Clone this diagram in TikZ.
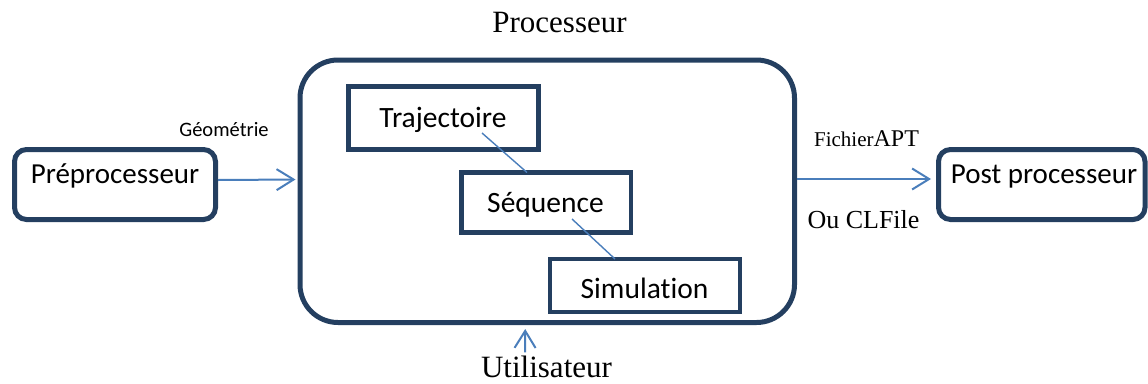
\documentclass[tikz,border=0pt]{standalone}
\usepackage{fontspec}
\setmainfont{Liberation Serif}
\newfontfamily\calibrifont[Ligatures=NoCommon]{Carlito}
\usetikzlibrary{arrows.meta,calc}
\definecolor{boxnavy}{HTML}{243F60}
\definecolor{linkblue}{HTML}{4A7EBB}
\tikzset{
  roundbox/.style={draw=boxnavy, line width=5pt, rounded corners=12pt, inner sep=0pt, fill=white},
  plainbox/.style={draw=boxnavy, line width=4.5pt, inner sep=0pt, fill=white},
  sanstext/.style={font=\calibrifont\fontsize{29}{31}\selectfont, anchor=base, inner sep=0pt},
  innertext/.style={font=\calibrifont\fontsize{29.5}{31}\selectfont, anchor=base, inner sep=0pt},
  seriftext/.style={anchor=base, inner sep=0pt},
  flow/.style={draw=linkblue, line width=2pt, -{Straight Barb[length=17pt, width=21pt, line width=2pt]}},
  link/.style={draw=linkblue, line width=1.4pt}
}
\begin{document}
\begin{tikzpicture}[x=1pt, y=-1pt]
\useasboundingbox (0,0) rectangle (1148,383);

% main processing block
\node[draw=boxnavy, line width=5pt, rounded corners=38pt, inner sep=0pt,
      minimum width=494.5pt, minimum height=262.5pt] (proc) at (547.25,191.25) {};
\node[seriftext, font=\fontsize{31}{33}\selectfont] (tproc) at (559.5,32) {Processeur};

% outer stages
\node[roundbox, minimum width=201pt, minimum height=70pt] (pre) at (115,184.5) {};
\node[sanstext] (tpre) at (115,183) {Préprocesseur};
\node[roundbox, minimum width=206.5pt, minimum height=70pt] (post) at (1041.75,184.5) {};
\node[sanstext] (tpost) at (1044,183) {Post processeur};

% inner steps
\node[plainbox, minimum width=190pt, minimum height=63pt] (traj) at (443.5,118) {};
\node[innertext] (ttraj) at (443,127) {Trajectoire};
\node[plainbox, minimum width=169.5pt, minimum height=60pt] (seq) at (546.25,202.5) {};
\node[innertext] (tseq) at (545.5,212) {Séquence};
\node[plainbox, minimum width=190pt, minimum height=53pt] (sim) at (645,285.5) {};
\node[innertext] (tsim) at (644.5,298) {Simulation};

% links between the steps
\coordinate (l1s) at ($(traj.center)+(38.5,15)$);
\coordinate (l1e) at ($(seq.north)+(-19.25,2.25)$);
\draw[link] (l1s) -- (l1e);
\coordinate (l2s) at ($(seq.center)+(25.75,16.5)$);
\coordinate (l2e) at ($(sim.north)+(-30,2.25)$);
\draw[link] (l2s) -- (l2e);

% data flow
\draw[flow, shorten >=2pt] ([yshift=4.5pt]pre.east) -- ([yshift=11.75pt]proc.west);
\draw[flow, shorten >=5pt] ([yshift=12.25pt]proc.east) -- ([yshift=5.5pt]post.west);

\node[seriftext, font=\calibrifont\fontsize{20.5}{22}\selectfont] (tgeo) at (224,136) {Géométrie};
\node[seriftext] (tapt) at (866.5,146) {\fontsize{21}{23}\selectfont Fichier\fontsize{24}{26}\selectfont APT};
\node[seriftext, font=\fontsize{26}{28}\selectfont] (tcl) at (863.5,228) {Ou CLFile};

% user input
\node[seriftext, font=\fontsize{31}{33}\selectfont] (tuser) at (546.5,377) {Utilisateur};
\draw[flow, shorten <=3pt, shorten >=4pt] ([xshift=-21.5pt]tuser.north) -- ([xshift=-22pt]proc.south);
\end{tikzpicture}
\end{document}
